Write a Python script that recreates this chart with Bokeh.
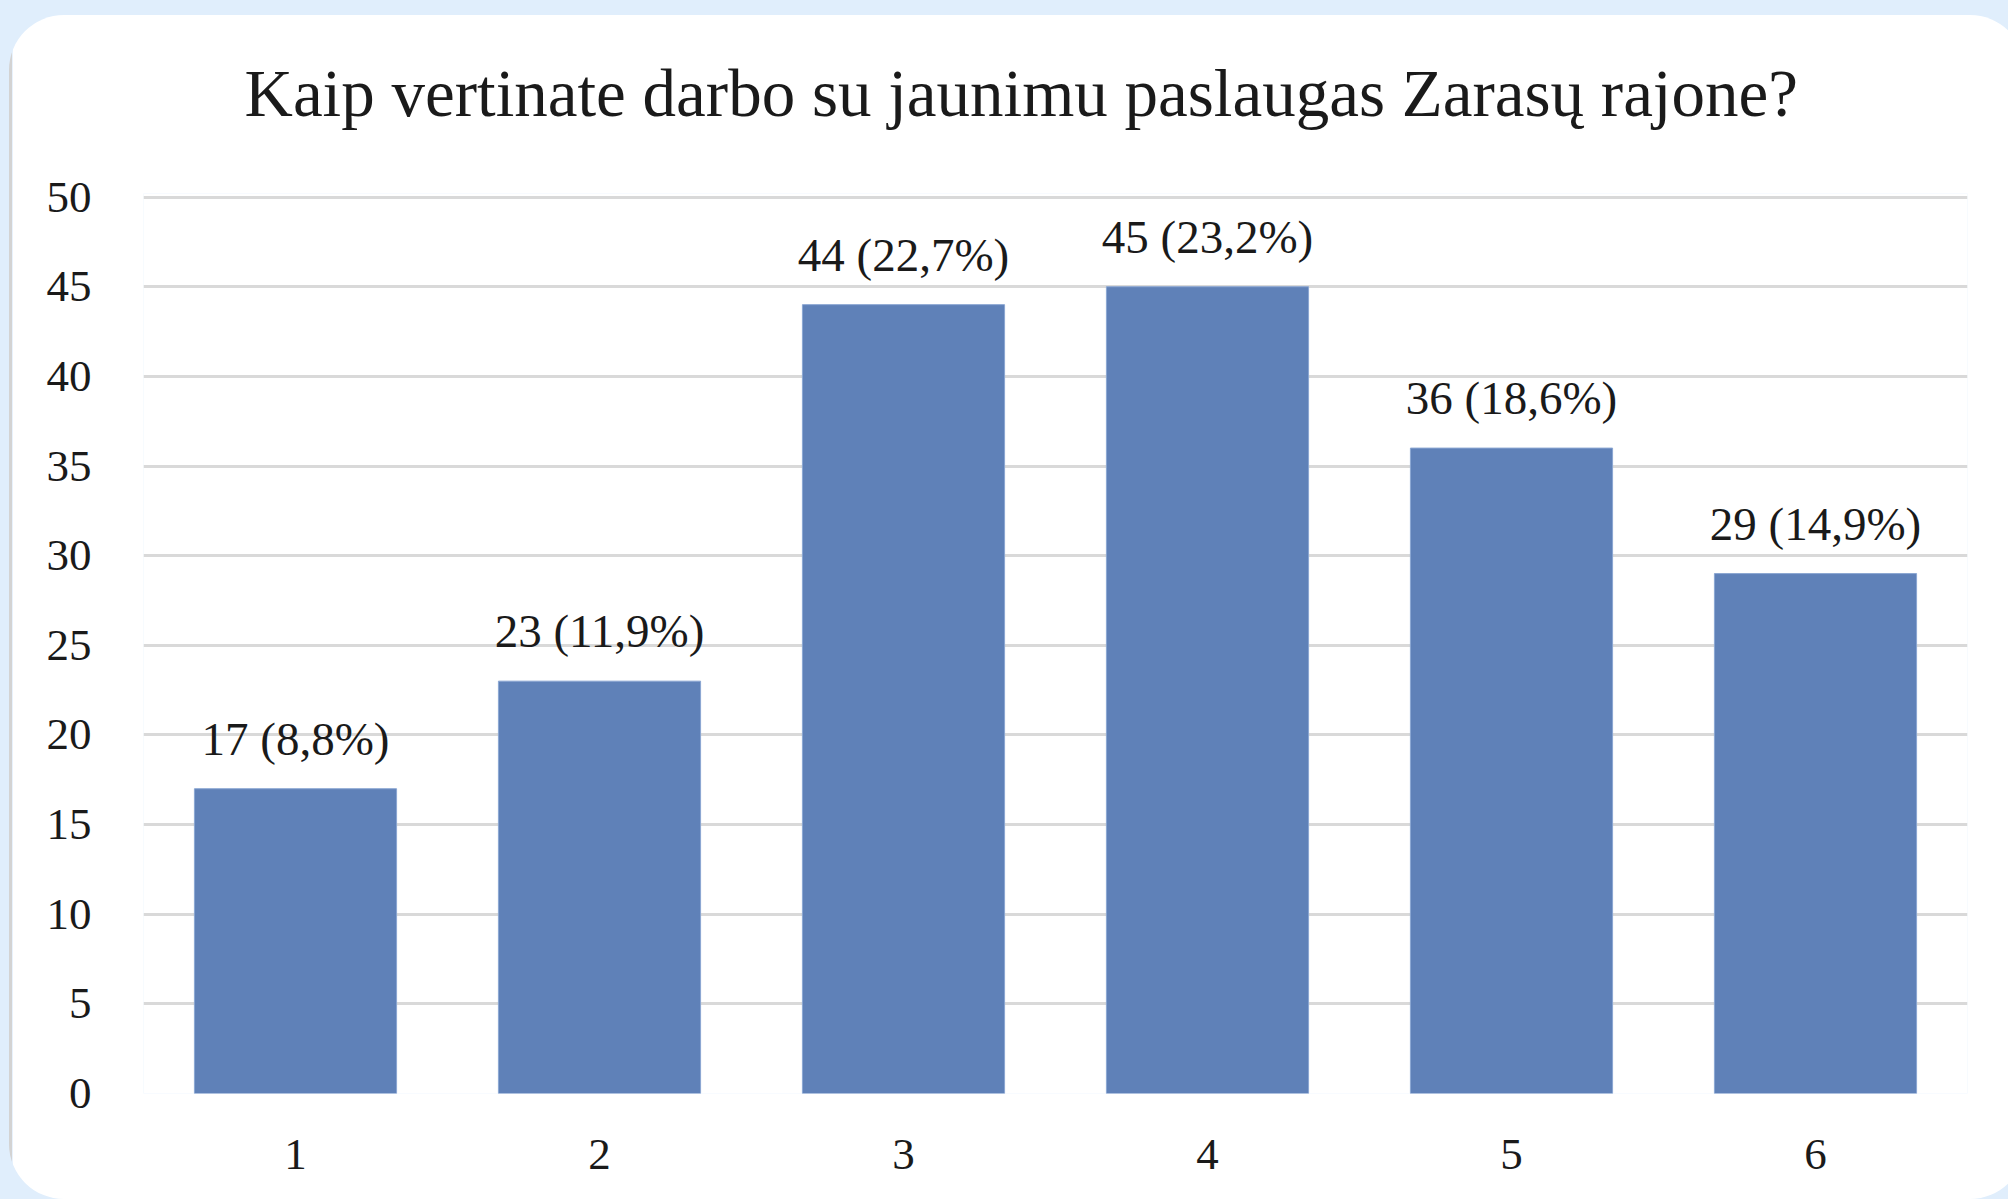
from bokeh.plotting import figure
from bokeh.models import Range1d, ColumnDataSource, GlobalInlineStyleSheet
from bokeh.core.properties import value
from bokeh.embed import file_html
from bokeh.resources import INLINE

# ---- data ----
categories = ["1", "2", "3", "4", "5", "6"]
counts = [17, 23, 44, 45, 36, 29]
percents = [8.8, 11.9, 22.7, 23.2, 18.6, 14.9]
y_ticks = [0, 5, 10, 15, 20, 25, 30, 35, 40, 45, 50]
title_text = "Kaip vertinate  darbo su jaunimu paslaugas Zarasų rajone?"

labels = [f"{c} ({str(pc).replace('.', ',')}%)" for c, pc in zip(counts, percents)]
src = ColumnDataSource(dict(cat=categories, count=counts, label=labels))

FONT = "Liberation Serif"
TXT = "#1a1a1a"

p = figure(
    width=2016, height=1212,
    x_range=categories, y_range=Range1d(0, 50.2),
    output_backend="svg", toolbar_location=None,
    min_border_left=131, min_border_right=61,
    min_border_top=206, min_border_bottom=106,
)
p.stylesheets = [GlobalInlineStyleSheet(css="html, body {margin:0; padding:0; background:#e0eefc; overflow:hidden;}")]
p.styles = {
    "margin-left": "9px",
    "margin-top": "-13px",
    "border-left": "3px solid #d3d3d3",
    "clip-path": "inset(28px 0px 0px 0px round 55px)",
}
p.outline_line_color = None
p.background_fill_color = "white"
p.border_fill_color = "white"

p.title.text = title_text
p.title.align = "left"
p.title.text_font = FONT
p.title.text_font_size = "67px"
p.title.text_font_style = "normal"
p.title.text_color = TXT
p.title.standoff = 127
p.title.offset = 101

p.xgrid.grid_line_color = None
p.ygrid.grid_line_color = "#d9d9d9"
p.ygrid.grid_line_width = 3
p.yaxis.ticker = y_ticks

for ax in (p.xaxis, p.yaxis):
    ax.axis_line_color = None
    ax.major_tick_line_color = None
    ax.minor_tick_line_color = None
    ax.major_label_text_font = FONT
    ax.major_label_text_font_size = "45px"
    ax.major_label_text_color = TXT
p.yaxis.major_label_standoff = 46
p.xaxis.major_label_standoff = 40

p.vbar(x="cat", top="count", width=0.665, source=src,
       fill_color="#5f81b8", line_color="#8aa6d2", line_width=1)
p.text(x="cat", y="count", text="label", source=src,
       text_font=value(FONT), text_font_size="47px", text_color=TXT,
       text_align="center", text_baseline="alphabetic", y_offset=-50)

open("out.html", "w").write(file_html(p, INLINE))
